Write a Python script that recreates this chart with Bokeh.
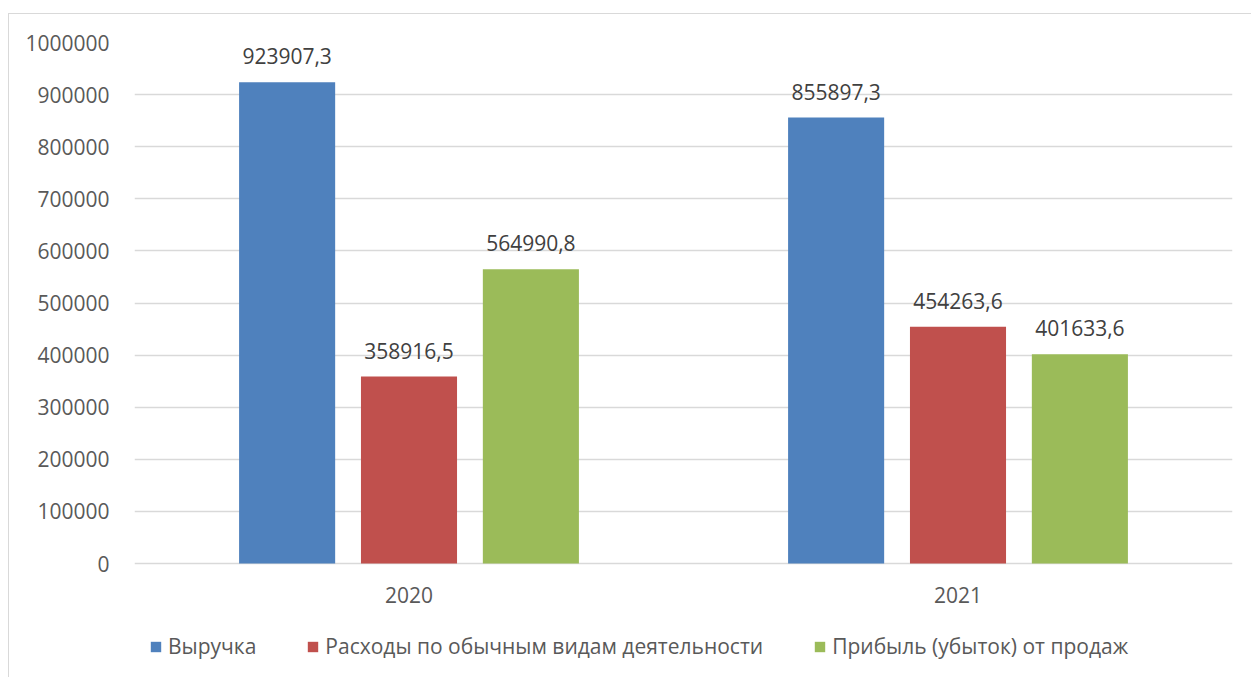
from bokeh.plotting import figure
from bokeh.models import (FactorRange, ColumnDataSource, LabelSet, Legend, LegendItem,
                          FixedTicker, BasicTickFormatter)
from bokeh.core.properties import value
from bokeh.transform import dodge
from bokeh.embed import file_html
from bokeh.resources import INLINE

years = ["2020", "2021"]
revenue = [923907.3, 855897.3]
expenses = [358916.5, 454263.6]
profit = [564990.8, 401633.6]
series_names = ["Выручка", "Расходы по обычным видам деятельности", "Прибыль (убыток) от продаж"]
colors = ["#4F81BD", "#C0504D", "#9BBB59"]
y_ticks = list(range(0, 1000001, 100000))

FONT = "Open Sans"
TXT = "#595959"
FS = "21px"

def fmt(v):
    return f"{v:.1f}".replace(".", ",")

# frame extends below zero so the legend (inside the frame) sits at the bottom
p = figure(x_range=FactorRange(*years), y_range=(-218810, 1000000),
           frame_width=1098, frame_height=635, output_backend="svg", toolbar_location=None,
           x_axis_location=None,
           min_border_left=125, min_border_right=19, min_border_top=28, min_border_bottom=0,
           background_fill_color="white", border_fill_color="white")
p.styles = {"margin-left": "8px", "margin-top": "13px",
            "border-top": "1px solid #d9d9d9", "border-left": "1px solid #d9d9d9"}
p.outline_line_color = None

offsets = [-0.222, 0.0, 0.222]
renderers = []
for vals, off, col in zip([revenue, expenses, profit], offsets, colors):
    src = ColumnDataSource(dict(x=years, top=vals, lab=[fmt(v) for v in vals]))
    r = p.vbar(x=dodge("x", off, range=p.x_range), top="top", width=0.175, source=src,
               fill_color=col, line_color=None)
    renderers.append(r)
    p.add_layout(LabelSet(x=dodge("x", off, range=p.x_range), y="top", text="lab", source=src,
                          text_align="center", text_baseline="bottom", y_offset=18,
                          text_font=value(FONT), text_font_size=value(FS), text_color="#404040"))

# category labels under the zero line
cat_src = ColumnDataSource(dict(x=years, y=[0] * len(years), lab=years))
p.add_layout(LabelSet(x="x", y="y", text="lab", source=cat_src, text_align="center",
                      text_baseline="middle", y_offset=-31, text_font=value(FONT),
                      text_font_size=value(FS), text_color=TXT))

p.xgrid.grid_line_color = None
p.ygrid.grid_line_color = "#d9d9d9"
p.ygrid.grid_line_width = 1.5
p.yaxis.ticker = FixedTicker(ticks=y_ticks)
p.ygrid.ticker = FixedTicker(ticks=y_ticks)
p.yaxis.formatter = BasicTickFormatter(use_scientific=False)
p.yaxis.axis_line_color = None
p.yaxis.major_tick_line_color = None
p.yaxis.minor_tick_line_color = None
p.yaxis.major_label_text_font = FONT
p.yaxis.major_label_text_font_size = FS
p.yaxis.major_label_text_color = TXT
p.yaxis.major_label_standoff = 19

legend = Legend(items=[LegendItem(label=n, renderers=[r]) for n, r in zip(series_names, renderers)],
                orientation="horizontal", location=(15, 17), border_line_color=None,
                background_fill_alpha=0, glyph_width=13, glyph_height=13, label_standoff=6,
                spacing=50, label_text_font=FONT, label_text_font_size=FS,
                label_text_color=TXT, margin=0, padding=0)
p.add_layout(legend, "center")

open("out.html", "w").write(file_html(p, INLINE))
